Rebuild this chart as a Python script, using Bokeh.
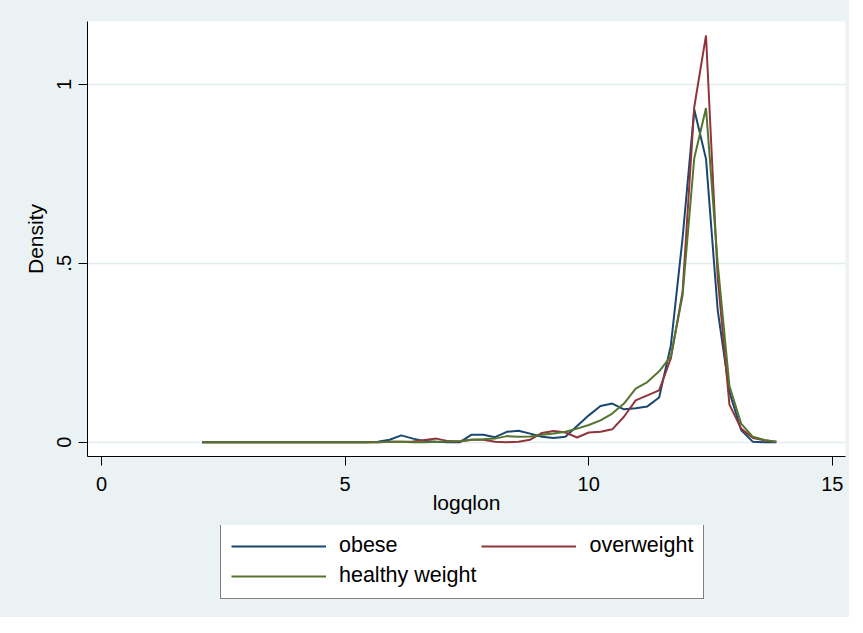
from bokeh.plotting import figure
from bokeh.layouts import column
from bokeh.models import FixedTicker, Legend, LegendItem, Range1d
from bokeh.embed import file_html
from bokeh.resources import INLINE

# evaluation points of the kernel densities (logqlon)
xgrid = [2.065, 2.306, 2.546, 2.787, 3.027, 3.268, 3.508, 3.749, 3.989, 4.230,
         4.470, 4.711, 4.951, 5.192, 5.432, 5.673, 5.913, 6.154, 6.394, 6.635,
         6.875, 7.116, 7.356, 7.597, 7.837, 8.078, 8.318, 8.559, 8.799, 9.040,
         9.280, 9.521, 9.761, 10.002, 10.242, 10.483, 10.723, 10.964, 11.204, 11.445,
         11.685, 11.926, 12.166, 12.407, 12.647, 12.888, 13.128, 13.369, 13.609, 13.850]

obese = [0.000, 0.000, 0.000, 0.000, 0.000, 0.000, 0.000, 0.000, 0.000, 0.000,
         0.000, 0.000, 0.000, 0.000, 0.000, 0.001, 0.007, 0.019, 0.010, 0.003,
         0.001, 0.000, 0.000, 0.021, 0.021, 0.014, 0.029, 0.032, 0.024, 0.015,
         0.012, 0.015, 0.045, 0.075, 0.101, 0.108, 0.092, 0.095, 0.100, 0.125,
         0.270, 0.570, 0.930, 0.792, 0.369, 0.140, 0.034, 0.001, 0.000, 0.000]

overweight = [0.000, 0.000, 0.000, 0.000, 0.000, 0.000, 0.000, 0.000, 0.000, 0.000,
              0.000, 0.000, 0.000, 0.000, 0.000, 0.000, 0.001, 0.001, 0.002, 0.006,
              0.010, 0.003, 0.002, 0.007, 0.007, 0.001, 0.000, 0.001, 0.007, 0.026,
              0.031, 0.027, 0.013, 0.027, 0.029, 0.036, 0.071, 0.117, 0.131, 0.145,
              0.234, 0.420, 0.937, 1.137, 0.460, 0.105, 0.038, 0.012, 0.005, 0.001]

healthy = [0.000, 0.000, 0.000, 0.000, 0.000, 0.000, 0.000, 0.000, 0.000, 0.000,
           0.000, 0.000, 0.000, 0.000, 0.000, 0.000, 0.001, 0.001, 0.000, 0.000,
           0.001, 0.002, 0.003, 0.007, 0.008, 0.010, 0.017, 0.015, 0.016, 0.021,
           0.024, 0.029, 0.038, 0.048, 0.061, 0.080, 0.108, 0.150, 0.168, 0.198,
           0.240, 0.410, 0.794, 0.934, 0.500, 0.157, 0.052, 0.015, 0.006, 0.001]

series_names = ["obese", "overweight", "healthy weight"]
series_colors = ["#1a476f", "#90353b", "#55752f"]
x_ticks = [0, 5, 10, 15]
y_ticks = [0, 0.5, 1]
y_tick_labels = {0: "0", 0.5: ".5", 1: "1"}

FONT = "Liberation Sans"
BG = "#eaf2f3"

# ---------------- main plot ----------------
p = figure(width=849, height=525, output_backend="svg", toolbar_location=None,
           x_range=Range1d(-0.287, 15.27), y_range=Range1d(-0.040, 1.176),
           min_border_left=87, min_border_right=4, min_border_top=21,
           min_border_bottom=69)
p.border_fill_color = BG
p.background_fill_color = "white"
p.outline_line_color = None

for ax in (p.xaxis[0], p.yaxis[0]):
    ax.axis_line_color = "#000000"
    ax.axis_line_width = 1
    ax.major_tick_line_color = "#000000"
    ax.major_tick_out = 9
    ax.major_tick_in = 0
    ax.minor_tick_out = 0
    ax.minor_tick_in = 0
    ax.major_label_text_font = FONT
    ax.major_label_text_font_size = "20px"
    ax.major_label_text_color = "#000000"
    ax.axis_label_text_font = FONT
    ax.axis_label_text_font_size = "21px"
    ax.axis_label_text_font_style = "normal"
    ax.axis_label_text_color = "#000000"

p.xaxis.ticker = FixedTicker(ticks=x_ticks)
p.yaxis.ticker = FixedTicker(ticks=y_ticks)
p.yaxis.major_label_overrides = y_tick_labels
p.yaxis.major_label_orientation = "vertical"
p.xaxis.axis_label = "logqlon"
p.yaxis.axis_label = "Density"
p.xaxis.major_label_standoff = 11
p.xaxis.axis_label_standoff = -3
p.yaxis.major_label_standoff = 7
p.yaxis.axis_label_standoff = 8

p.xgrid.grid_line_color = None
p.ygrid.grid_line_color = "#e3edef"
p.ygrid.grid_line_width = 1.5

for ys, c in zip([obese, overweight, healthy], series_colors):
    p.line(xgrid, ys, line_color=c, line_width=2)

# ---------------- legend strip (same frame geometry as the plot) ----------------
lg = figure(width=849, height=92, output_backend="svg", toolbar_location=None,
            x_axis_type=None, y_axis_type=None,
            x_range=Range1d(0, 1), y_range=Range1d(0, 1),
            min_border_left=87, min_border_right=4, min_border_top=0,
            min_border_bottom=0, styles={"background-color": BG})
lg.border_fill_color = BG
lg.background_fill_color = BG
lg.background_fill_alpha = 0.0
lg.outline_line_color = None
lg.grid.visible = False

# the key lines reuse the series; the strip's ranges keep the data itself out of view
keys = {}
for name, ys, c in zip(series_names, [obese, overweight, healthy], series_colors):
    keys[name] = lg.line(xgrid, ys, line_color=c, line_width=2)

# Bokeh fills legend columns first: column 1 = obese, healthy weight; column 2 = overweight
legend_order = ["obese", "healthy weight", "overweight"]
items = [LegendItem(label=n, renderers=[keys[n]]) for n in legend_order]
legend = Legend(items=items, ncols=2, location=(133, 18),
                label_text_font=FONT, label_text_font_size="21.5px",
                label_text_color="#000000",
                glyph_width=95, glyph_height=20, label_height=20,
                label_standoff=13, spacing=5, padding=10, margin=0,
                border_line_color="#000000", border_line_width=1,
                background_fill_color="white", background_fill_alpha=1.0)
lg.add_layout(legend, "center")

layout = column(p, lg, spacing=0, styles={"background-color": BG})
open("out.html", "w").write(file_html(layout, INLINE))
